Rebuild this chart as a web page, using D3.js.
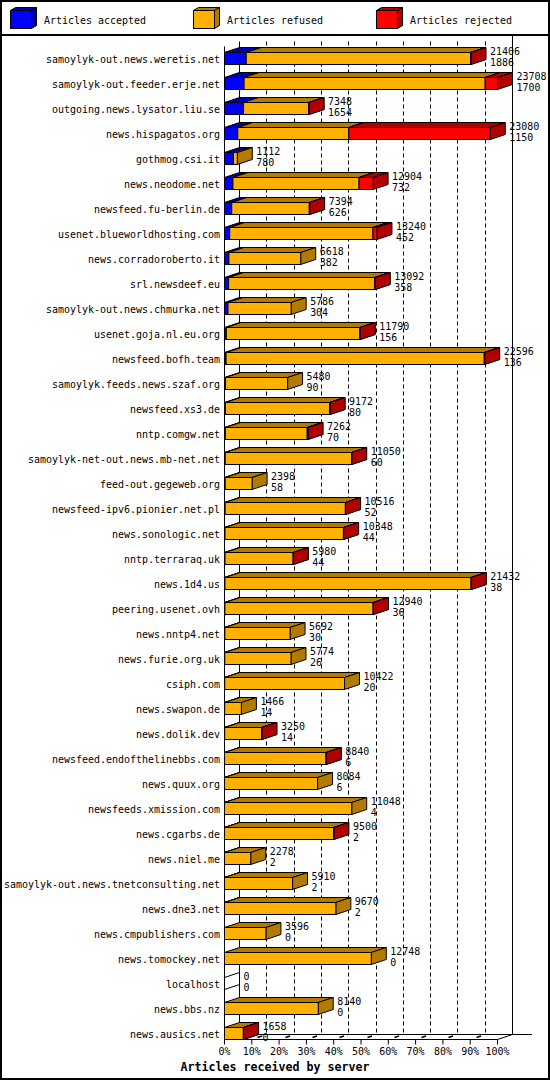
<!DOCTYPE html>
<html>
<head>
<meta charset="utf-8">
<script src="https://cdn.jsdelivr.net/npm/d3@7"></script>
<style>
  body { margin: 0; background: #fff; }
  svg { display: block; }
  text { font-family: "DejaVu Sans Mono", monospace; font-size: 10.5px; fill: #000; }
</style>
</head>
<body>
<svg id="chart" width="550" height="1080"></svg>
<script>
// servers, in the order the chart lists them
const servers = [
  'samoylyk-out.news.weretis.net', 'samoylyk-out.feeder.erje.net', 'outgoing.news.lysator.liu.se',
  'news.hispagatos.org', 'gothmog.csi.it', 'news.neodome.net', 'newsfeed.fu-berlin.de',
  'usenet.blueworldhosting.com', 'news.corradoroberto.it', 'srl.newsdeef.eu',
  'samoylyk-out.news.chmurka.net', 'usenet.goja.nl.eu.org', 'newsfeed.bofh.team',
  'samoylyk.feeds.news.szaf.org', 'newsfeed.xs3.de', 'nntp.comgw.net',
  'samoylyk-net-out.news.mb-net.net', 'feed-out.gegeweb.org', 'newsfeed-ipv6.pionier.net.pl',
  'news.sonologic.net', 'nntp.terraraq.uk', 'news.1d4.us', 'peering.usenet.ovh',
  'news.nntp4.net', 'news.furie.org.uk', 'csiph.com', 'news.swapon.de', 'news.dolik.dev',
  'newsfeed.endofthelinebbs.com', 'news.quux.org', 'newsfeeds.xmission.com', 'news.cgarbs.de',
  'news.niel.me', 'samoylyk-out.news.tnetconsulting.net', 'news.dne3.net',
  'news.cmpublishers.com', 'news.tomockey.net', 'localhost', 'news.bbs.nz', 'news.ausics.net'
];

// top number next to each bar
const received = [21406, 23708, 7348, 23080, 1112, 12904, 7394, 13240, 6618, 13092,
  5786, 11790, 22596, 5480, 9172, 7262, 11050, 2398, 10516, 10348,
  5980, 21432, 12940, 5692, 5774, 10422, 1466, 3250, 8840, 8084,
  11048, 9500, 2278, 5910, 9670, 3596, 12748, 0, 8140, 1658];

// bottom number next to each bar
const accepted = [1886, 1700, 1654, 1150, 780, 732, 626, 452, 382, 358,
  304, 156, 136, 90, 80, 70, 60, 58, 52, 44,
  44, 38, 36, 30, 26, 20, 14, 14, 6, 6,
  4, 2, 2, 2, 2, 0, 0, 0, 0, 0];

const refused = [19480, 20938, 5664, 9640, 332, 10952, 6738, 12438, 6236, 12694,
  5482, 11604, 22420, 5390, 9062, 7112, 10970, 2340, 10444, 10284,
  5916, 21374, 12864, 5662, 5748, 10402, 1452, 3216, 8814, 8078,
  11044, 9468, 2276, 5908, 9668, 3596, 12748, 0, 8140, 1638];

const rejected = [40, 1070, 30, 12290, 0, 1220, 30, 350, 0, 40,
  0, 30, 40, 0, 30, 80, 20, 0, 20, 20,
  20, 20, 40, 0, 0, 0, 0, 20, 20, 0,
  0, 30, 0, 0, 0, 0, 0, 0, 0, 20];

const legendLabels = ['Articles accepted', 'Articles refused', 'Articles rejected'];
const tickPercents = [0, 10, 20, 30, 40, 50, 60, 70, 80, 90, 100];
const axisTitle = 'Articles received by server';

const frontColor = ['#0000ff', '#ffb000', '#ff0000'];
const darkColor = ['#0000b2', '#b27b00', '#b20000'];

const svg = d3.select('#chart');
const dx = 15, dy = 5;          // 3d depth
const floorY = 1039.5;
const backTop = 41.5;
const charW = 6;

const maxVal = d3.max(received);
const x = d3.scaleLinear().domain([0, maxVal]).range([224.5, 497.5]);
const y = d3.scaleBand().domain(servers).range([46, 1046]).paddingInner(0.52).paddingOuter(0.26);
const bh = y.bandwidth();
const snap = v => Math.round(v - 0.5) + 0.5;

// frame + legend divider
svg.append('rect')
  .attr('x', 1).attr('y', 1).attr('width', 548).attr('height', 1078)
  .style('fill', 'none').style('stroke', '#000').style('stroke-width', 2);
svg.append('line')
  .attr('x1', 0).attr('x2', 550).attr('y1', 35).attr('y2', 35)
  .style('stroke', '#000').style('stroke-width', 2);

// legend
let legend = svg.append('g').selectAll('.leg')
  .data(legendLabels)
  .join('g')
  .attr('class', 'leg')
  .attr('transform', (d, i) => `translate(${10 + 183 * i},0)`);

legend.append('polygon')
  .attr('points', '0.5,10.5 5.5,7.5 26.5,7.5 21.5,10.5')
  .style('fill', (d, i) => darkColor[i]).style('stroke', '#000');
legend.append('polygon')
  .attr('points', '21.5,10.5 26.5,7.5 26.5,25.5 21.5,28.5')
  .style('fill', (d, i) => darkColor[i]).style('stroke', '#000');
legend.append('rect')
  .attr('x', 0.5).attr('y', 10.5).attr('width', 21).attr('height', 18)
  .style('fill', (d, i) => frontColor[i]).style('stroke', '#000');
legend.append('text')
  .attr('x', 34).attr('y', 20)
  .attr('dominant-baseline', 'central')
  .attr('textLength', d => d.length * charW).attr('lengthAdjust', 'spacingAndGlyphs')
  .text(d => d);

// back wall and grid
let grid = svg.append('g');
tickPercents.forEach((p, k) => {
  const xf = snap(x(maxVal * p / 100));
  const xb = xf + dx;
  if (p === 0) {
    grid.append('line').attr('x1', xb).attr('x2', xb).attr('y1', backTop).attr('y2', floorY - dy)
      .style('stroke', '#000');
  } else if (p === 100) {
    grid.append('line').attr('x1', xb).attr('x2', xb).attr('y1', 35).attr('y2', floorY - dy)
      .style('stroke', '#000');
  } else {
    grid.append('line').attr('x1', xb).attr('x2', xb).attr('y1', backTop).attr('y2', floorY - dy)
      .style('stroke', '#000').style('stroke-dasharray', '4,3');
  }
  // floor diagonal
  const t0 = (p === 0 || p === 100) ? 0 : 0.4;
  const t1 = (p === 0 || p === 100) ? 1 : 0.7;
  grid.append('line')
    .attr('x1', xf + dx * t0).attr('y1', floorY - dy * t0)
    .attr('x2', xf + dx * t1).attr('y2', floorY - dy * t1)
    .style('stroke', '#000').style('stroke-width', p === 0 || p === 100 ? 1 : 1.6);
});
grid.append('line')
  .attr('x1', snap(x(0)) + dx).attr('x2', 532).attr('y1', floorY - dy).attr('y2', floorY - dy)
  .style('stroke', '#000');
grid.append('line')
  .attr('x1', snap(x(0))).attr('x2', snap(x(0))).attr('y1', 46.5).attr('y2', floorY)
  .style('stroke', '#000');

// x axis
let axis = d3.axisBottom(x)
  .tickValues(tickPercents.map(p => maxVal * p / 100))
  .tickFormat((d, i) => tickPercents[i] + '%')
  .tickSize(5).tickSizeOuter(0).tickPadding(3).offset(0);

let axisG = svg.append('g')
  .attr('transform', `translate(0,${floorY})`)
  .call(axis);
axisG.select('.domain').style('stroke', '#000');
axisG.selectAll('.tick line').style('stroke', '#000');
axisG.selectAll('.tick text')
  .attr('font-size', null).attr('font-family', null)
  .attr('textLength', function() { return this.textContent.length * charW; })
  .attr('lengthAdjust', 'spacingAndGlyphs');
axisG.attr('font-size', null).attr('font-family', null);

svg.append('text')
  .attr('x', 275).attr('y', 1067)
  .attr('text-anchor', 'middle').attr('dominant-baseline', 'central')
  .style('font-weight', 'bold').style('font-size', '12px')
  .attr('textLength', axisTitle.length * 7).attr('lengthAdjust', 'spacingAndGlyphs')
  .text(axisTitle);

// rows
const rows = servers.map((s, i) => {
  const vals = [accepted[i], refused[i], rejected[i]];
  let cum = 0;
  const segs = vals.map((v, j) => {
    const seg = { x0: x(cum), x1: x(cum + v), j: j, v: v };
    cum += v;
    return seg;
  }).filter(sg => sg.v > 0);
  return { name: s, total: received[i], acc: accepted[i], segs: segs, y0: y(s) };
});

let rowG = svg.append('g').selectAll('.row')
  .data(rows)
  .join('g')
  .attr('class', 'row');

rowG.append('text')
  .attr('x', 220)
  .attr('y', d => d.y0 + bh / 2 + 0.5)
  .attr('text-anchor', 'end').attr('dominant-baseline', 'central')
  .attr('textLength', d => d.name.length * charW).attr('lengthAdjust', 'spacingAndGlyphs')
  .text(d => d.name);

rowG.each(function(d) {
  const g = d3.select(this);
  const y0 = d.y0, y1 = d.y0 + bh;
  if (d.segs.length === 0) {
    const xa = snap(x(0));
    g.append('line').attr('x1', xa).attr('y1', y0).attr('x2', xa + dx).attr('y2', y0 - dy).style('stroke', '#000');
    g.append('line').attr('x1', xa).attr('y1', y1).attr('x2', xa + dx).attr('y2', y1 - dy).style('stroke', '#000');
    return;
  }
  const sg = g.selectAll('.seg')
    .data(d.segs)
    .join('g')
    .attr('class', 'seg');
  sg.append('polygon')
    .attr('points', s => [[s.x0, y0], [s.x0 + dx, y0 - dy], [s.x1 + dx, y0 - dy], [s.x1, y0]].join(' '))
    .style('fill', s => darkColor[s.j]).style('stroke', '#000');
  sg.append('polygon')
    .attr('points', s => [[s.x1, y0], [s.x1 + dx, y0 - dy], [s.x1 + dx, y1 - dy], [s.x1, y1]].join(' '))
    .style('fill', s => darkColor[s.j]).style('stroke', '#000');
  sg.append('rect')
    .attr('x', s => s.x0).attr('y', y0)
    .attr('width', s => s.x1 - s.x0).attr('height', bh)
    .style('fill', s => frontColor[s.j]).style('stroke', '#000');
});

rowG.append('text')
  .attr('x', d => x(d.total) + dx + 4)
  .attr('y', d => d.y0 - 2)
  .attr('dominant-baseline', 'central')
  .attr('textLength', d => String(d.total).length * charW).attr('lengthAdjust', 'spacingAndGlyphs')
  .text(d => d.total);

rowG.append('text')
  .attr('x', d => x(d.total) + dx + 4)
  .attr('y', d => d.y0 + 9.5)
  .attr('dominant-baseline', 'central')
  .attr('textLength', d => String(d.acc).length * charW).attr('lengthAdjust', 'spacingAndGlyphs')
  .text(d => d.acc);
</script>
</body>
</html>
